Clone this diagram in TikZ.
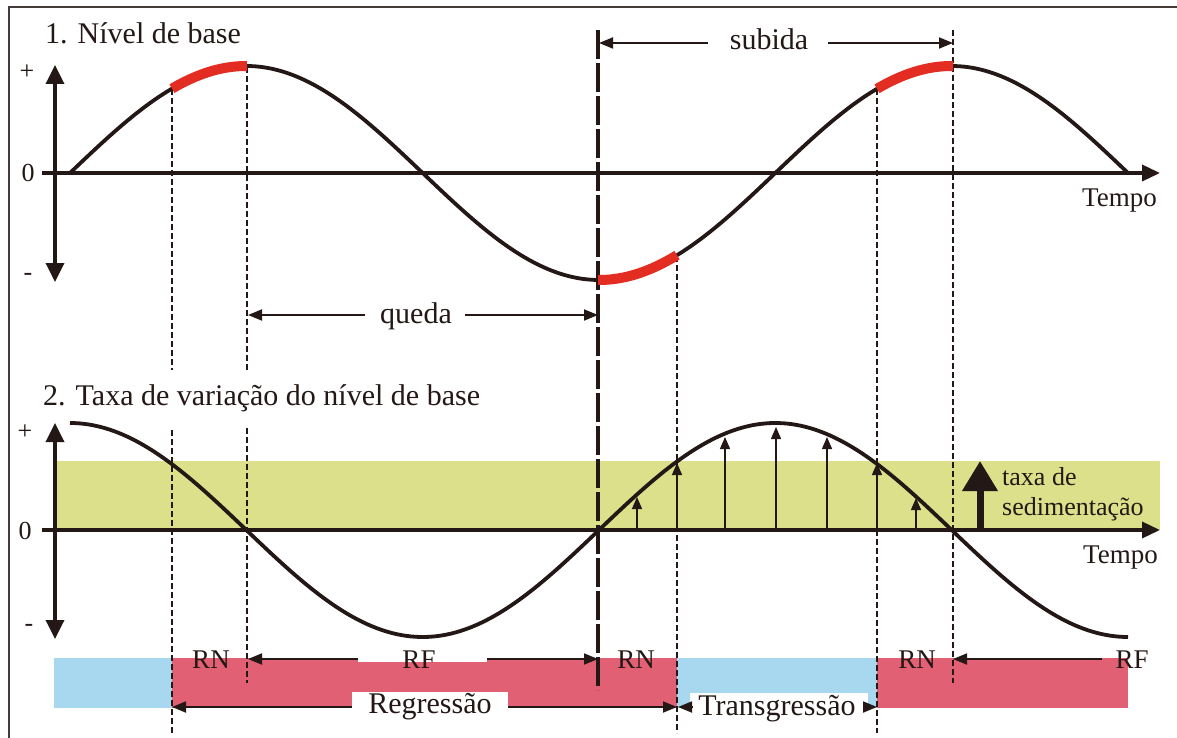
\documentclass[tikz,border=0pt]{standalone}
\usepackage{fontspec}
\setmainfont{Liberation Serif}
\usetikzlibrary{arrows.meta}
\definecolor{ink}{HTML}{231815}
\definecolor{hired}{HTML}{E32D22}
\definecolor{barpink}{HTML}{E26074}
\definecolor{barblue}{HTML}{A7D8EF}
\definecolor{band}{HTML}{DCE08A}
\begin{document}
\begin{tikzpicture}[x=1pt,y=-1pt,
  curve/.style={ink, line width=3.8pt},
  hot/.style={hired, line width=10pt},
  axisline/.style={ink, line width=3.5pt},
  guide/.style={ink, line width=1.4pt, dash pattern=on 6pt off 3pt},
  bigguide/.style={ink, line width=3.5pt, dash pattern=on 29pt off 4pt},
  dimarrow/.style={ink, line width=1.8pt, -{Triangle[length=14pt,width=11pt]}},
  ratearrow/.style={ink, line width=1.4pt, -{Triangle[length=12pt,width=10pt]}},
  lbl/.style={font=\fontsize{30}{32}\selectfont, inner sep=0pt, text=ink},
  tlbl/.style={font=\fontsize{27}{29}\selectfont, inner sep=0pt, text=ink},
  slbl/.style={font=\fontsize{26}{28}\selectfont, inner sep=0pt, text=ink},
]
\useasboundingbox (0,0) rectangle (1177,738);
\fill[white] (0,0) rectangle (1177,738);
% frame
\draw[ink!85, line width=1.2pt] (9,738) -- (9,7) -- (1177,7);

% green band
\fill[band] (55,461) rectangle (1160,530);

% bars
\fill[barblue] (54,658) rectangle (172,708);
\fill[barpink] (172,658) rectangle (677,708);
\fill[barblue] (677,658) rectangle (877,708);
\fill[barpink] (877,658) rectangle (1128,708);
\fill[white] (358,656) rectangle (487,662);
\fill[white] (352,692) rectangle (508,710);
\fill[white] (690,693) rectangle (868,710);

% guides (dashed)
\draw[guide] (172,89) -- (172,370);
\draw[guide] (172,430) -- (172,733);
\draw[guide] (247,67) -- (247,370);
\draw[guide] (247,428) -- (247,683);
\draw[guide] (677,256) -- (677,733);
\draw[guide] (877,89) -- (877,733);
\draw[guide] (953,30) -- (953,683);
\draw[bigguide] (598,30) -- (598,690);

% axes
\coordinate (a1s) at (42,173); \coordinate (a1e) at (1160,173);
\coordinate (v1t) at (55,65); \coordinate (v1b) at (55,282);
\coordinate (a2s) at (42,530); \coordinate (a2e) at (1160,530);
\coordinate (v2t) at (55,423); \coordinate (v2b) at (55,639);
\draw[axisline, -{Triangle[length=18pt,width=16pt]}] (a1s) -- (a1e);
\draw[axisline, {Triangle[length=19pt,width=18pt]}-{Triangle[length=19pt,width=18pt]}] (v1b) -- (v1t);
\draw[axisline, -{Triangle[length=18pt,width=16pt]}] (a2s) -- (a2e);
\draw[axisline, {Triangle[length=19pt,width=18pt]}-{Triangle[length=19pt,width=18pt]}] (v2b) -- (v2t);

% curves
\draw[curve] plot[domain=70:1128, samples=240] (\x, {173-107*sin((\x-70)/176.33*90)});
\draw[hot] plot[domain=172:247, samples=30] (\x, {173-107*sin((\x-70)/176.33*90)});
\draw[hot] plot[domain=598:677, samples=30] (\x, {173-107*sin((\x-70)/176.33*90)});
\draw[hot] plot[domain=877:953, samples=30] (\x, {173-107*sin((\x-70)/176.33*90)});
\draw[curve] plot[domain=70:1128, samples=240] (\x, {530-107*cos((\x-70)/176.33*90)});

% rate arrows
\foreach \px/\py [count=\i] in {637/497, 677/463, 725/437, 776/427, 827/437, 877/463, 916/498}{
  \coordinate (rb\i) at (\px,530); \coordinate (rt\i) at (\px,\py);
  \draw[ratearrow] (rb\i) -- (rt\i);
}
\coordinate (bigb) at (980,530); \coordinate (bigt) at (980,461);
\draw[ink, line width=7pt, -{Triangle[length=30pt,width=34pt]}] (bigb) -- (bigt);
\node[slbl, anchor=base west] (tx1) at (1002,485) {taxa de};
\node[slbl, anchor=base west] (tx2) at (1002,515) {sedimentação};

% titles and labels
\node[lbl, anchor=base west] (t1) at (45,44) {1. Nível de base};
\node[lbl, anchor=base west] (t2) at (43,405) {2. Taxa de variação do nível de base};
\node[lbl, anchor=base] (sub) at (769,50) {subida};
\node[lbl, anchor=base] (qd) at (416,323) {queda};
\node[tlbl, anchor=base east] (tp1) at (1157,207) {Tempo};
\node[tlbl, anchor=base east] (tp2) at (1158,563) {Tempo};

\node[slbl] (p1) at (27,72) {+};
\node[slbl, anchor=base] (z1) at (28,182) {0};
\node[slbl] (m1) at (28,277) {-};
\node[slbl] (p2) at (25,432) {+};
\node[slbl, anchor=base] (z2) at (25,539) {0};
\node[slbl] (m2) at (29,628) {-};

% subida / queda dimension arrows
\coordinate (s1) at (708,43); \coordinate (s1t) at (599,43);
\coordinate (s2) at (828,43); \coordinate (s2t) at (953,43);
\draw[dimarrow] (s1) -- (s1t);
\draw[dimarrow] (s2) -- (s2t);
\coordinate (q1) at (365,315); \coordinate (q1t) at (248,315);
\coordinate (q2) at (465,315); \coordinate (q2t) at (598,315);
\draw[dimarrow] (q1) -- (q1t);
\draw[dimarrow] (q2) -- (q2t);

% bar labels
\node[tlbl, anchor=base] (rn1) at (211,668) {RN};
\node[tlbl, anchor=base] (rf1) at (419,668) {RF};
\node[tlbl, anchor=base] (rn2) at (636,668) {RN};
\node[tlbl, anchor=base] (rn3) at (917,668) {RN};
\node[tlbl, anchor=base] (rf2) at (1132,668) {RF};
\node[lbl, anchor=base] (reg) at (430,713) {Regressão};
\node[lbl, anchor=base] (trs) at (777,715) {Transgressão};

% bar arrows
\coordinate (b1) at (358,659); \coordinate (b1t) at (248,659);
\coordinate (b2) at (487,659); \coordinate (b2t) at (598,659);
\coordinate (b3) at (1102,659); \coordinate (b3t) at (953,659);
\draw[dimarrow] (b1) -- (b1t);
\draw[dimarrow] (b2) -- (b2t);
\draw[dimarrow] (b3) -- (b3t);
\coordinate (c1) at (352,707); \coordinate (c1t) at (172,707);
\coordinate (c2) at (508,707); \coordinate (c2t) at (677,707);
\coordinate (c3) at (692,707); \coordinate (c3t) at (678,707);
\coordinate (c4) at (866,707); \coordinate (c4t) at (877,707);
\draw[dimarrow] (c1) -- (c1t);
\draw[dimarrow] (c2) -- (c2t);
\draw[dimarrow] (c3) -- (c3t);
\draw[dimarrow] (c4) -- (c4t);
\end{tikzpicture}
\end{document}
